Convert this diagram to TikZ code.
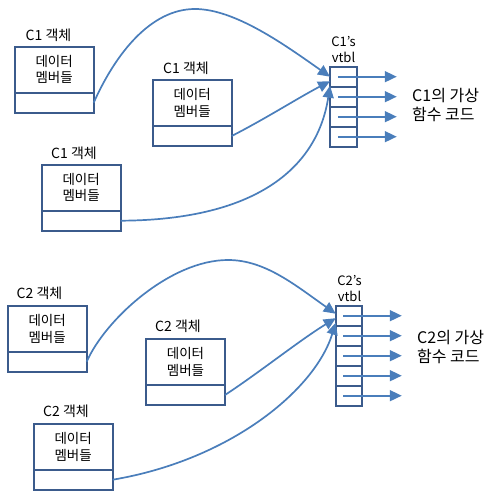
\documentclass[tikz,border=0pt]{standalone}
\usepackage{fontspec}
\setmainfont{Noto Sans CJK KR}
\usetikzlibrary{arrows.meta,calc}
\definecolor{boxblue}{HTML}{3B5B8C}
\definecolor{arrblue}{HTML}{4A7EBB}
\begin{document}
\begin{tikzpicture}[x=1pt,y=-1pt,
 objtop/.style={draw=boxblue,line width=2pt,outer sep=0pt,minimum width=79pt,minimum height=46pt,inner sep=0pt,align=center,font=\fontsize{13.5}{16.5}\selectfont},
 objbot/.style={draw=boxblue,line width=2pt,outer sep=0pt,minimum width=79pt,minimum height=20pt,inner sep=0pt},
 objlabel/.style={inner sep=0pt,font=\fontsize{14}{16}\selectfont},
 vcell/.style={draw=boxblue,line width=2pt,outer sep=0pt,minimum width=26.7pt,minimum height=20pt,inner sep=0pt},
 vlabel/.style={inner sep=0pt,align=center,font=\fontsize{13}{16}\selectfont},
 codelabel/.style={inner sep=0pt,align=left,font=\fontsize{16}{19}\selectfont,anchor=west},
 ptr/.style={draw=arrblue,line width=1.7pt,-{Triangle[length=12pt,width=11pt]}},
]
\useasboundingbox (0,0) rectangle (497,494);

% ---------- top group (C1) ----------
\node[objtop,anchor=north west] (a1t) at (14.7,46.7) {데이터\\멤버들};
\node[objbot,anchor=north] (a1b) at (a1t.south) {};
\node[objlabel] (a1l) at (48.5,35) {C1 객체};

\node[objtop,anchor=north west] (a2t) at (152.7,80) {데이터\\멤버들};
\node[objbot,anchor=north] (a2b) at (a2t.south) {};
\node[objlabel] (a2l) at (186,68) {C1 객체};

\node[objtop,anchor=north west] (a3t) at (41.7,164.7) {데이터\\멤버들};
\node[objbot,anchor=north] (a3b) at (a3t.south) {};
\node[objlabel] (a3l) at (74,153) {C1 객체};

\node[vcell,anchor=north west] (p1) at (330,66.7) {};
\node[vcell,anchor=north] (p2) at (p1.south) {};
\node[vcell,anchor=north] (p3) at (p2.south) {};
\node[vcell,anchor=north] (p4) at (p3.south) {};
\node[vlabel] (pl) at (343.5,50) {C1's\\vtbl};
\node[codelabel] (pc) at (412,105.5) {C1의 가상\\함수 코드};

\foreach \i in {1,...,4}{
  \coordinate (q\i) at ([xshift=53.4pt]p\i.center);
  \draw[ptr] ([xshift=-5.6pt]p\i.center) -- (q\i);
}

\draw[ptr] (a1b.east) .. controls (115,55) and (150,9) .. (195,9)
  .. controls (235,9) and (285,45) .. (p1.west);
\draw[ptr] (a2b.east) .. controls (265,119) and (298,98) .. ([yshift=-4.5pt]p1.west);
\draw[ptr] (a3b.east) .. controls (260,220) and (318,165) .. ([yshift=-9pt]p1.west);

% ---------- bottom group (C2) ----------
\node[objtop,anchor=north west] (b1t) at (7.7,305.7) {데이터\\멤버들};
\node[objbot,anchor=north] (b1b) at (b1t.south) {};
\node[objlabel] (b1l) at (39.5,293) {C2 객체};

\node[objtop,anchor=north west] (b2t) at (146,339) {데이터\\멤버들};
\node[objbot,anchor=north] (b2b) at (b2t.south) {};
\node[objlabel] (b2l) at (178,326.7) {C2 객체};

\node[objtop,anchor=north west] (b3t) at (33.7,423.7) {데이터\\멤버들};
\node[objbot,anchor=north] (b3b) at (b3t.south) {};
\node[objlabel] (b3l) at (66,411.7) {C2 객체};

\node[vcell,anchor=north west] (r1) at (335.7,305.7) {};
\node[vcell,anchor=north] (r2) at (r1.south) {};
\node[vcell,anchor=north] (r3) at (r2.south) {};
\node[vcell,anchor=north] (r4) at (r3.south) {};
\node[vcell,anchor=north] (r5) at (r4.south) {};
\node[vlabel] (rl) at (349.5,289) {C2's\\vtbl};
\node[codelabel] (rc) at (417,347) {C2의 가상\\함수 코드};

\foreach \i in {1,...,5}{
  \coordinate (s\i) at ([xshift=52.7pt]r\i.center);
  \draw[ptr] ([xshift=-6pt]r\i.center) -- (s\i);
}

\draw[ptr] (b1b.east) .. controls (105,320) and (170,260) .. (228,260)
  .. controls (265,260) and (295,285) .. ([yshift=2pt]r1.west);
\draw[ptr] (b2b.east) .. controls (260,372) and (300,340) .. ([yshift=-2.5pt]r1.west);
\draw[ptr] (b3b.east) .. controls (230,460) and (315,390) .. ([yshift=-7pt]r1.west);
\end{tikzpicture}
\end{document}
